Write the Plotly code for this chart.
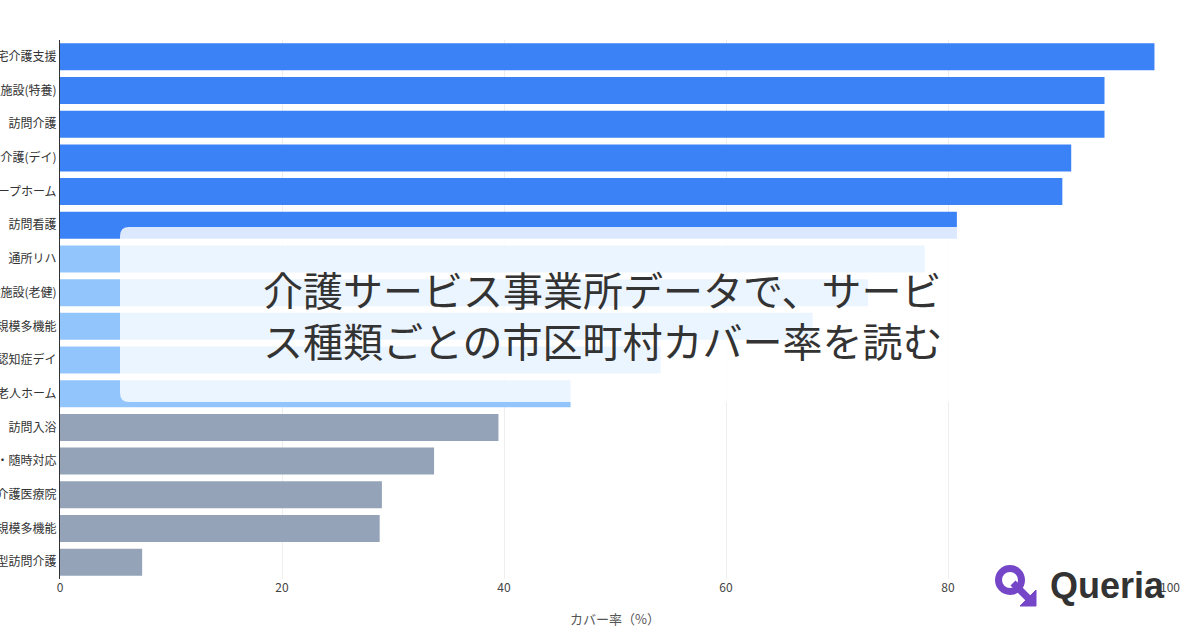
import plotly.graph_objects as go

# ---- data ----
categories = [
    "居宅介護支援", "介護老人福祉施設(特養)", "訪問介護", "通所介護(デイ)",
    "認知症グループホーム", "訪問看護", "通所リハ", "介護老人保健施設(老健)",
    "小規模多機能", "認知症デイ", "有料老人ホーム", "訪問入浴",
    "定期巡回・随時対応", "介護医療院", "看護小規模多機能", "夜間対応型訪問介護",
]
coverage = [98.6, 94.1, 94.1, 91.1, 90.3, 80.8, 77.9, 72.8,
            67.8, 54.1, 46.0, 39.5, 33.7, 29.0, 28.8, 7.4]
tiers = ["high"] * 6 + ["mid"] * 5 + ["low"] * 5
tier_colors = {"high": "#3b82f6", "mid": "#93c5fd", "low": "#94a3b8"}
x_ticks = [0, 20, 40, 60, 80, 100]
title_lines = ["介護サービス事業所データで、サービ", "ス種類ごとの市区町村カバー率を読む"]
x_title = "カバー率（%）"

# ---- layout geometry (pixels) ----
W, H = 1200, 630
ML, MR, MT, MB = 60, 30, 40, 51
PW, PH = W - ML - MR, H - MT - MB


def px(x):
    return (x - ML) / PW


def py(y):
    return (H - MB - y) / PH


fig = go.Figure()
fig.add_trace(go.Bar(
    y=categories, x=coverage, orientation="h",
    marker=dict(color=[tier_colors[t] for t in tiers], line=dict(width=0)),
    hoverinfo="skip",
))

# rounded overlay card
x0, x1, y0, y1, r = 120, 1080, 227, 402, 9
rx, ry = r / PW, r / PH
X0, X1, Y0, Y1 = px(x0), px(x1), py(y1), py(y0)
path = (f"M {X0+rx},{Y0} L {X1-rx},{Y0} Q {X1},{Y0} {X1},{Y0+ry} "
        f"L {X1},{Y1-ry} Q {X1},{Y1} {X1-rx},{Y1} L {X0+rx},{Y1} "
        f"Q {X0},{Y1} {X0},{Y1-ry} L {X0},{Y0+ry} Q {X0},{Y0} {X0+rx},{Y0} Z")

shapes = [dict(type="path", path=path, xref="paper", yref="paper",
               fillcolor="rgba(255,255,255,0.82)", line=dict(width=0), layer="above")]

# logo icon
purple = "#7646c9"
cx, cy, rr = 1010, 580, 11.5
shapes.append(dict(type="circle", xref="paper", yref="paper",
                   x0=px(cx - rr), x1=px(cx + rr), y0=py(cy + rr), y1=py(cy - rr),
                   line=dict(color=purple, width=7), fillcolor="rgba(0,0,0,0)", layer="above"))
shapes.append(dict(type="line", xref="paper", yref="paper",
                   x0=px(1013), y0=py(583), x1=px(1029), y1=py(599),
                   line=dict(color=purple, width=7), layer="above"))
shapes.append(dict(type="path", xref="paper", yref="paper",
                   path=f"M {px(1036)},{py(606)} L {px(1036)},{py(590)} L {px(1020)},{py(606)} Z",
                   fillcolor=purple, line=dict(color=purple, width=1), layer="above"))

annotations = []
for i, (line, yc) in enumerate(zip(title_lines, [289, 340])):
    annotations.append(dict(
        text=line, xref="paper", yref="paper", x=px(261), y=py(yc),
        xanchor="left", yanchor="middle", showarrow=False,
        font=dict(family="Noto Sans CJK JP", size=40, color="#333333"),
    ))
annotations.append(dict(
    text="<b>Queria</b>", xref="paper", yref="paper", x=px(1048), y=py(585),
    xanchor="left", yanchor="middle", showarrow=False,
    font=dict(family="Liberation Sans", size=36, color="#333333"),
))

fig.update_layout(
    width=W, height=H,
    margin=dict(l=ML, r=MR, t=MT, b=MB, autoexpand=False),
    paper_bgcolor="white", plot_bgcolor="white",
    bargap=0.2, showlegend=False,
    font=dict(family="Noto Sans CJK JP", size=12, color="#444444"),
    shapes=shapes, annotations=annotations,
    xaxis=dict(
        range=[0, 100], tickvals=x_ticks, ticktext=[str(v) for v in x_ticks],
        showgrid=True, gridcolor="#eeeeee", gridwidth=1, zeroline=False,
        showline=False, ticks="", automargin=False,
        tickfont=dict(size=12, color="#444444"),
        title=dict(text=x_title, standoff=20, font=dict(size=13, color="#555555")),
    ),
    yaxis=dict(
        autorange="reversed", showgrid=False, zeroline=False,
        showline=True, linecolor="#333333", linewidth=1, ticks="",
        automargin=False, tickfont=dict(size=12, color="#333333"),
    ),
)

fig.write_html("out.html", include_plotlyjs=True, config={"displayModeBar": False})
